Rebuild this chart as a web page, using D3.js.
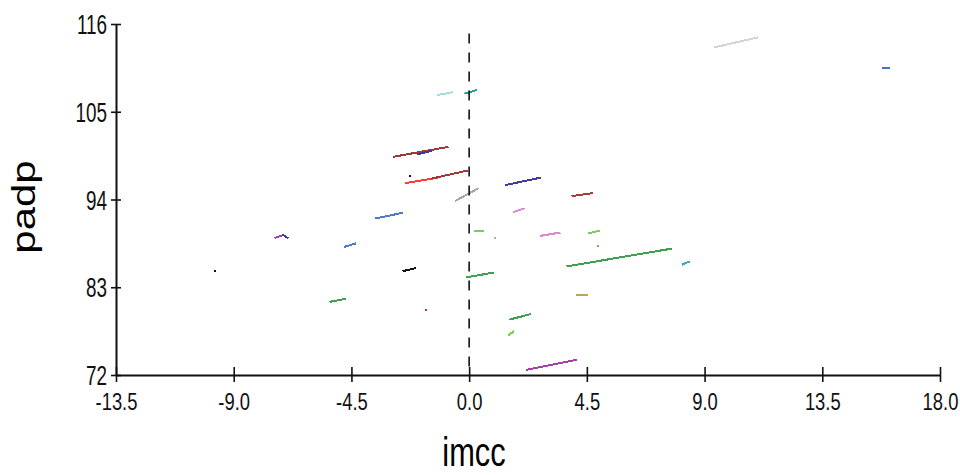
<!DOCTYPE html>
<html>
<head>
<meta charset="utf-8">
<script src="https://cdn.jsdelivr.net/npm/d3@7"></script>
<style>
  body { margin: 0; background: #fff; }
  svg { display: block; font-family: "Liberation Sans", Arial, sans-serif; }
  .seg { fill: none; stroke-width: 2; stroke-linecap: square; }
</style>
</head>
<body>
<script>
var xTicks = [-13.5, -9.0, -4.5, 0.0, 4.5, 9.0, 13.5, 18.0];
var yTicks = [72, 83, 94, 105, 116];

// one entry per drawn segment (a dot is a segment with equal ends)
var startX = [9.41, 15.82, -1.20, -0.14, -2.87, -1.94, -2.26, -2.42, -1.41, -0.51,
  -3.56, 1.40, 3.95, 1.72, 2.76, 4.58, 4.91, 0.23, 0.99, -7.41,
  -7.11, -4.74, -9.71, -5.30, -2.51, -1.64, -0.09, 3.76, 8.17, 4.13,
  1.58, 1.53, 2.21];
var startY = [113.1, 110.45, 107.1, 107.3, 99.37, 99.7, 96.95, 96.07, 96.64, 93.85,
  91.64, 95.82, 94.44, 92.47, 89.46, 89.76, 88.13, 90.09, 89.2, 89.21,
  89.55, 88.09, 85.08, 81.19, 85.04, 80.15, 84.25, 85.63, 85.88, 82.03,
  78.98, 77.05, 72.66];
var endX = [11.01, 16.05, -0.65, 0.27, -0.83, -1.45, -2.26, -1.24, -0.09, 0.32,
  -2.57, 2.72, 4.69, 2.08, 3.45, 4.98, 4.91, 0.54, 0.99, -7.10,
  -6.95, -4.37, -9.71, -4.74, -2.06, -1.64, 0.91, 7.72, 8.40, 4.50,
  2.33, 1.69, 4.08];
var endY = [114.3, 110.45, 107.44, 107.7, 100.58, 100.08, 96.95, 96.7, 97.61, 95.35,
  92.31, 96.73, 94.78, 92.85, 89.84, 90.09, 88.13, 90.09, 89.2, 89.55,
  89.21, 88.46, 85.08, 81.53, 85.38, 80.15, 84.83, 87.83, 86.2, 82.03,
  79.61, 77.43, 73.88];
var segColors = ['#d4d4d4', '#4472c4', '#a6dede', '#20a0a0', '#a03838', '#3a3aa0', '#111111', '#ff3b3b', '#a03838', '#a6a6a6',
  '#4a7acb', '#3d3d9e', '#a83c3c', '#dd8ad0', '#dd8ad0', '#7fcc55', '#a89848', '#7fcc55', '#b0b0b0', '#a040a8',
  '#3a3aa0', '#4a7acb', '#111111', '#3ea050', '#111111', '#cc3030', '#3ea050', '#3ea050', '#30b0c0', '#b5a560',
  '#3ea050', '#7fcc55', '#a040a8'];

var width = 960;
var height = 475;

var x = d3.scaleLinear().domain([-13.5, 18]).range([116, 940]);
var y = d3.scaleLinear().domain([72, 116]).range([375, 24]);

var svg = d3.select('body').append('svg')
  .attr('width', width)
  .attr('height', height);

var segments = startX.map(function(d, i) {
  return { x0: d, y0: startY[i], x1: endX[i], y1: endY[i], color: segColors[i] };
});

svg.append('g').attr('id', 'seg-root')
  .selectAll('line').data(segments)
  .enter().append('line')
    .attr('class', 'seg')
    .attr('shape-rendering', 'crispEdges')
    .attr('x1', function(d) { return x(d.x0); })
    .attr('y1', function(d) { return y(d.y0); })
    .attr('x2', function(d) { return x(d.x1); })
    .attr('y2', function(d) { return y(d.y1); })
    .attr('stroke', function(d) { return d.color; });

// zero reference
svg.append('line')
  .attr('x1', x(0)).attr('x2', x(0))
  .attr('y1', y(114.8)).attr('y2', y(72))
  .attr('stroke', '#111')
  .attr('stroke-width', 1.6)
  .attr('stroke-dasharray', '10,9');

function plainMinus(fmt) {
  var f = d3.format(fmt);
  return function(d) { return f(d).replace('\u2212', '-'); };
}

var yAxis = svg.append('g')
  .attr('transform', 'translate(' + x(-13.5) + ',0)')
  .call(d3.axisLeft(y).tickValues(yTicks).tickFormat(plainMinus('d')).tickSizeOuter(0));

var xAxis = svg.append('g')
  .attr('transform', 'translate(0,' + y(72) + ')')
  .call(d3.axisBottom(x).tickValues(xTicks).tickFormat(plainMinus('.1f')).tickSizeOuter(0));

[xAxis, yAxis].forEach(function(ax) {
  ax.select('.domain').attr('stroke', '#111').attr('stroke-width', 2);
  ax.selectAll('.tick line').attr('stroke', '#111').attr('stroke-width', 1.6);
});

yAxis.selectAll('.tick line').attr('x1', -5).attr('x2', 5);
yAxis.selectAll('.tick text')
  .attr('x', 0)
  .attr('dy', '0.36em')
  .attr('fill', '#111')
  .attr('font-size', 27)
  .attr('transform', 'translate(-9,0) scale(0.7,1)');

xAxis.selectAll('.tick line').attr('y1', -8).attr('y2', 7);
xAxis.selectAll('.tick text')
  .attr('y', 0)
  .attr('dy', 0)
  .attr('fill', '#111')
  .attr('font-size', 23)
  .attr('transform', 'translate(0,35) scale(0.8,1)');

svg.append('text')
  .attr('text-anchor', 'middle')
  .attr('font-size', 40)
  .attr('fill', '#000')
  .attr('transform', 'translate(474,466) scale(0.77,1)')
  .text('imcc');

svg.append('text')
  .attr('text-anchor', 'middle')
  .attr('font-size', 42)
  .attr('fill', '#000')
  .attr('transform', 'translate(35,207) scale(0.78,1) rotate(-90)')
  .text('padp');
</script>
</body>
</html>
